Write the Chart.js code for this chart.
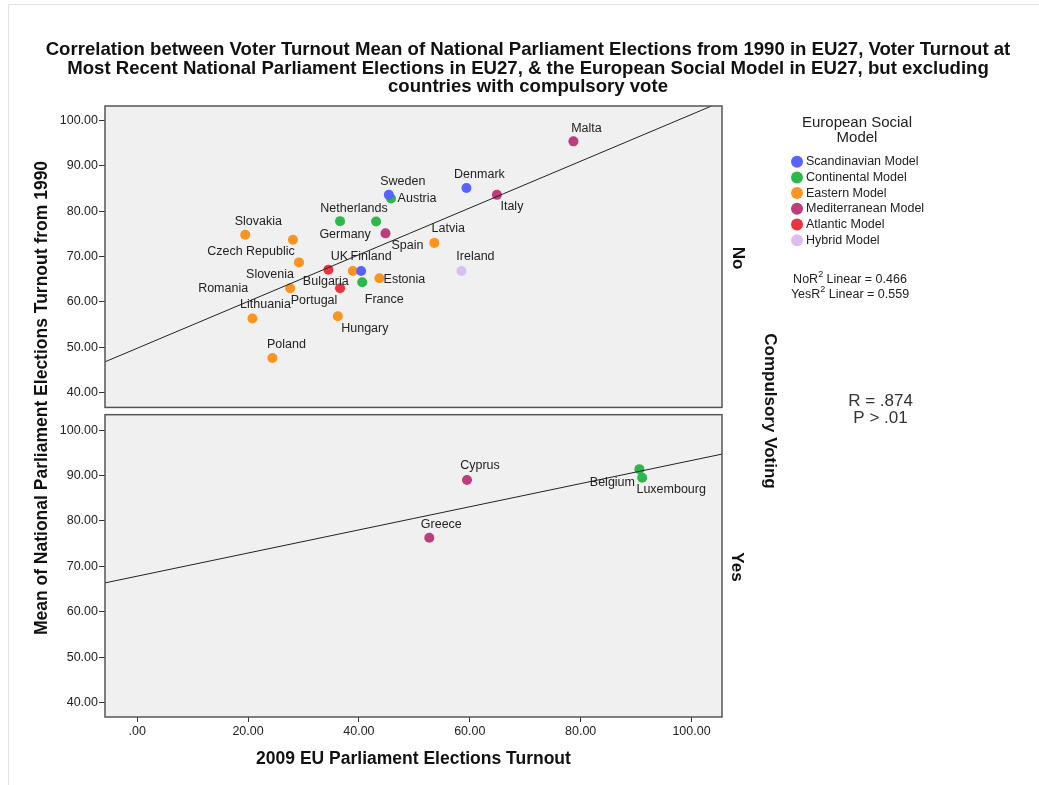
<!DOCTYPE html>
<html>
<head>
<meta charset="utf-8">
<title>Voter turnout EU27</title>
<script src="https://cdn.jsdelivr.net/npm/chart.js@4.4.0/dist/chart.umd.min.js"></script>
<style>
  html, body { margin: 0; padding: 0; background: #fff; }
  #contenedor { width: 1039px; height: 785px; position: relative; }
</style>
</head>
<body>
<div id="contenedor"><canvas id="grafica" width="1039" height="785"></canvas></div>
<script>
// datos
var paises = ["Sweden", "Denmark", "Finland", "Netherlands", "Germany", "Austria", "France",
  "Slovakia", "Czech Republic", "Latvia", "Slovenia", "Bulgaria", "Estonia", "Romania",
  "Lithuania", "Hungary", "Poland", "Malta", "Italy", "Spain", "UK", "Portugal", "Ireland",
  "Cyprus", "Greece", "Belgium", "Luxembourg"];
var turnout2009 = [45.4, 59.4, 40.4, 36.6, 43.1, 45.8, 40.6,
  19.5, 28.1, 53.6, 29.2, 38.9, 43.7, 27.6,
  20.8, 36.2, 24.4, 78.7, 64.9, 44.8, 34.5, 36.6, 58.5,
  59.5, 52.7, 90.6, 91.1];
var mediaTurnout = [83.6, 85.1, 66.8, 77.8, 77.7, 82.8, 64.3,
  74.8, 73.7, 73.0, 68.7, 66.8, 65.2, 63.0,
  56.3, 56.8, 47.6, 95.4, 83.6, 75.1, 67.1, 63.0, 66.8,
  89.0, 76.3, 91.4, 89.5];
// indice del modelo social europeo de cada pais
var modeloPais = [0, 0, 0, 1, 1, 1, 1,
  2, 2, 2, 2, 2, 2, 2,
  2, 2, 2, 3, 3, 3, 4, 4, 5,
  3, 3, 1, 1];
var votoObligatorio = ["No", "No", "No", "No", "No", "No", "No",
  "No", "No", "No", "No", "No", "No", "No",
  "No", "No", "No", "No", "No", "No", "No", "No", "No",
  "Yes", "Yes", "Yes", "Yes"];
var modelos = ["Scandinavian Model", "Continental Model", "Eastern Model",
  "Mediterranean Model", "Atlantic Model", "Hybrid Model"];
var gruposVoto = ["No", "Yes"];
var r2Textos = ["0.466", "0.559"];
var ticksX = [0, 20, 40, 60, 80, 100];
var ticksY = [40, 50, 60, 70, 80, 90, 100];

// estilos
var coloresModelo = ["#5862ff", "#2db84b", "#f8941f", "#bd3c7c", "#ee3340", "#dcbdf2"];
var fuente = "'Liberation Sans', Arial, sans-serif";
var colorPanel = "#f0f0f0";
var colorMarco = "#555555";
var xMin = -5.8, xMax = 105.5;
// limites de cada panel (el resto del eje queda como hueco blanco)
var ejeNo = {min: 35.8, max: 103.2, marcoMin: 36.7, marcoMax: 103.2};
var ejeYes = {min: 36.8, max: 104.1, marcoMin: 36.8, marcoMax: 103.4};

// desplazamiento de cada etiqueta respecto a su punto (px)
var posEtiqueta = {
  "Malta": [13, -13], "Denmark": [13, -13], "Italy": [15, 12], "Latvia": [14, -14],
  "Ireland": [14, -14], "Sweden": [14, -13], "Austria": [26, 0], "Netherlands": [14, -13],
  "Germany": [-31, 13], "Spain": [22, 12], "Slovakia": [13, -13], "Czech Republic": [-42, 12],
  "Slovenia": [-29, 12], "Romania": [-67, 0], "UK": [11, -13], "Finland": [10, -14],
  "Bulgaria": [-27, 11], "Estonia": [25, 1], "France": [22, 17], "Portugal": [-26, 12],
  "Lithuania": [13, -14], "Hungary": [27, 12], "Poland": [14, -13], "Cyprus": [13, -14],
  "Greece": [12, -13], "Belgium": [-27, 13], "Luxembourg": [29, 12]
};

//recta de minimos cuadrados de un grupo
function ajusteLineal(grupo) {
  var xs = [], ys = [];
  for (var i = 0; i < paises.length; i++) {
    if (votoObligatorio[i] == grupo) { xs.push(turnout2009[i]); ys.push(mediaTurnout[i]); }
  }
  var n = xs.length, mx = 0, my = 0;
  for (var i = 0; i < n; i++) { mx += xs[i] / n; my += ys[i] / n; }
  var sxx = 0, sxy = 0;
  for (var i = 0; i < n; i++) { sxx += (xs[i] - mx) * (xs[i] - mx); sxy += (xs[i] - mx) * (ys[i] - my); }
  var b = sxy / sxx;
  return {a: my - b * mx, b: b};
}

function formatoNum(v) {
  var s = v.toFixed(2);
  return Math.abs(v) < 1 ? s.replace(/^0/, "") : s;
}

var datasets = [];
// primero las rectas para que queden encima de los puntos
gruposVoto.forEach(function (g) {
  var r = ajusteLineal(g);
  datasets.push({
    label: "ajuste " + g,
    data: [{x: xMin, y: r.a + r.b * xMin}, {x: xMax, y: r.a + r.b * xMax}],
    yAxisID: g == "No" ? "yNo" : "yYes",
    showLine: true,
    borderColor: "#222",
    borderWidth: 1,
    pointRadius: 0,
    esAjuste: true
  });
});
gruposVoto.forEach(function (g) {
  modelos.forEach(function (m, k) {
    var puntos = [];
    for (var i = 0; i < paises.length; i++) {
      if (votoObligatorio[i] == g && modeloPais[i] == k) {
        puntos.push({x: turnout2009[i], y: mediaTurnout[i], pais: paises[i]});
      }
    }
    if (puntos.length == 0) return;
    datasets.push({
      label: m,
      data: puntos,
      yAxisID: g == "No" ? "yNo" : "yYes",
      backgroundColor: coloresModelo[k],
      borderWidth: 0,
      pointRadius: 5,
      pointHoverRadius: 5
    });
  });
});

function ejeY(lim, peso) {
  return {
    type: "linear", position: "left", stack: "panel", stackWeight: 1, weight: peso,
    min: lim.min, max: lim.max,
    afterBuildTicks: function (eje) { eje.ticks = ticksY.map(function (v) { return {value: v}; }); },
    afterFit: function (eje) { eje.width = 105; },
    grid: {drawOnChartArea: false, drawTicks: true, tickLength: 6, color: "#333", lineWidth: 1},
    border: {display: false},
    ticks: {padding: 1, color: "#222", font: {size: 12.5, family: fuente}, callback: formatoNum}
  };
}

function texto(ctx, s, x, y, font, color, align, rot) {
  ctx.save();
  ctx.translate(x, y);
  if (rot) ctx.rotate(rot);
  ctx.font = font;
  ctx.fillStyle = color;
  ctx.textAlign = align || "center";
  ctx.textBaseline = "middle";
  ctx.fillText(s, 0, 0);
  ctx.restore();
}

//pinta fondos y marcos de los dos paneles
var panelesPlugin = {
  id: "paneles",
  beforeDraw: function (chart) {
    var ctx = chart.ctx;
    ctx.save();
    ctx.strokeStyle = "#e2e2e2";
    ctx.lineWidth = 1;
    ctx.beginPath();
    ctx.moveTo(8.5, 785); ctx.lineTo(8.5, 4.5); ctx.lineTo(1039, 4.5);
    ctx.stroke();
    ctx.restore();
  },
  beforeDatasetsDraw: function (chart) {
    var ctx = chart.ctx, a = chart.chartArea;
    [["yNo", ejeNo], ["yYes", ejeYes]].forEach(function (p) {
      var s = chart.scales[p[0]];
      var t = s.getPixelForValue(p[1].marcoMax), b = s.getPixelForValue(p[1].marcoMin);
      ctx.fillStyle = colorPanel;
      ctx.fillRect(a.left, t, a.right - a.left, b - t);
    });
  },
  afterDatasetsDraw: function (chart) {
    var ctx = chart.ctx, a = chart.chartArea;
    // etiquetas de los paises
    ctx.save();
    ctx.font = "12.5px " + fuente;
    ctx.fillStyle = "#222";
    ctx.textAlign = "center";
    ctx.textBaseline = "middle";
    chart.data.datasets.forEach(function (ds, i) {
      if (ds.esAjuste) return;
      chart.getDatasetMeta(i).data.forEach(function (el, j) {
        var nombre = ds.data[j].pais;
        var d = posEtiqueta[nombre] || [0, -13];
        ctx.fillText(nombre, el.x + d[0], el.y + d[1]);
      });
    });
    ctx.restore();
    // marcos
    ctx.save();
    ctx.strokeStyle = colorMarco;
    ctx.lineWidth = 1.5;
    [["yNo", ejeNo], ["yYes", ejeYes]].forEach(function (p) {
      var s = chart.scales[p[0]];
      var t = s.getPixelForValue(p[1].marcoMax), b = s.getPixelForValue(p[1].marcoMin);
      ctx.strokeRect(a.left, t, a.right - a.left, b - t);
    });
    ctx.restore();
  },
  afterDraw: function (chart) {
    var ctx = chart.ctx;
    var fTitulo = "bold 18.6px " + fuente, fEje = "bold 17.5px " + fuente, fPanel = "bold 17px " + fuente;
    texto(ctx, "Correlation between Voter Turnout Mean of National Parliament Elections from 1990 in EU27, Voter Turnout at", 528, 50, fTitulo, "#111");
    texto(ctx, "Most Recent National Parliament Elections in EU27, & the European Social Model in EU27, but excluding", 528, 68.5, fTitulo, "#111");
    texto(ctx, "countries with compulsory vote", 528, 87, fTitulo, "#111");
    texto(ctx, "2009 EU Parliament Elections Turnout", 413.5, 759, fEje, "#111");
    texto(ctx, "Mean of National Parliament Elections Turnout from 1990", 42, 398, fEje, "#111", "center", -Math.PI / 2);
    texto(ctx, "No", 738, 258, fPanel, "#111", "center", Math.PI / 2);
    texto(ctx, "Yes", 737, 567, fPanel, "#111", "center", Math.PI / 2);
    texto(ctx, "Compulsory Voting", 770, 411, fPanel, "#111", "center", Math.PI / 2);

    // leyenda
    texto(ctx, "European Social", 857, 123, "15px " + fuente, "#222");
    texto(ctx, "Model", 857, 138, "15px " + fuente, "#222");
    modelos.forEach(function (m, k) {
      var y = 161.7 + k * 15.7;
      ctx.beginPath();
      ctx.fillStyle = coloresModelo[k];
      ctx.arc(797, y, 6, 0, Math.PI * 2);
      ctx.fill();
      texto(ctx, m, 806, y, "12.5px " + fuente, "#222", "left");
    });

    // R2 de cada recta
    gruposVoto.forEach(function (g, k) {
      var y = 280 + k * 14.5;
      var f = "12.5px " + fuente, fs = "9px " + fuente;
      var p1 = g + "R", p2 = "2", p3 = " Linear = " + r2Textos[k];
      ctx.font = f; var w1 = ctx.measureText(p1).width, w3 = ctx.measureText(p3).width;
      ctx.font = fs; var w2 = ctx.measureText(p2).width;
      var x0 = 850 - (w1 + w2 + w3) / 2;
      texto(ctx, p1, x0, y, f, "#222", "left");
      texto(ctx, p2, x0 + w1, y - 5, fs, "#222", "left");
      texto(ctx, p3, x0 + w1 + w2, y, f, "#222", "left");
    });

    texto(ctx, "R = .874", 880.5, 401, "17px " + fuente, "#333");
    texto(ctx, "P > .01", 880.5, 418, "17px " + fuente, "#333");
  }
};

Chart.defaults.font.family = fuente;

var grafica = new Chart(document.getElementById("grafica"), {
  type: "scatter",
  data: {datasets: datasets},
  options: {
    responsive: false,
    animation: false,
    layout: {padding: {left: 0, top: 106, right: 317, bottom: 0}},
    plugins: {legend: {display: false}, tooltip: {enabled: false}},
    scales: {
      x: {
        type: "linear", position: "bottom", min: xMin, max: xMax,
        afterBuildTicks: function (eje) { eje.ticks = ticksX.map(function (v) { return {value: v}; }); },
        afterFit: function (eje) { eje.height = 68; },
        grid: {drawOnChartArea: false, drawTicks: true, tickLength: 5, color: "#333", lineWidth: 1},
        border: {display: false},
        ticks: {padding: 2, color: "#222", maxRotation: 0, font: {size: 12.5, family: fuente}, callback: formatoNum}
      },
      yYes: ejeY(ejeYes, 0),
      yNo: ejeY(ejeNo, 1)
    }
  },
  plugins: [panelesPlugin]
});
</script>
</body>
</html>
